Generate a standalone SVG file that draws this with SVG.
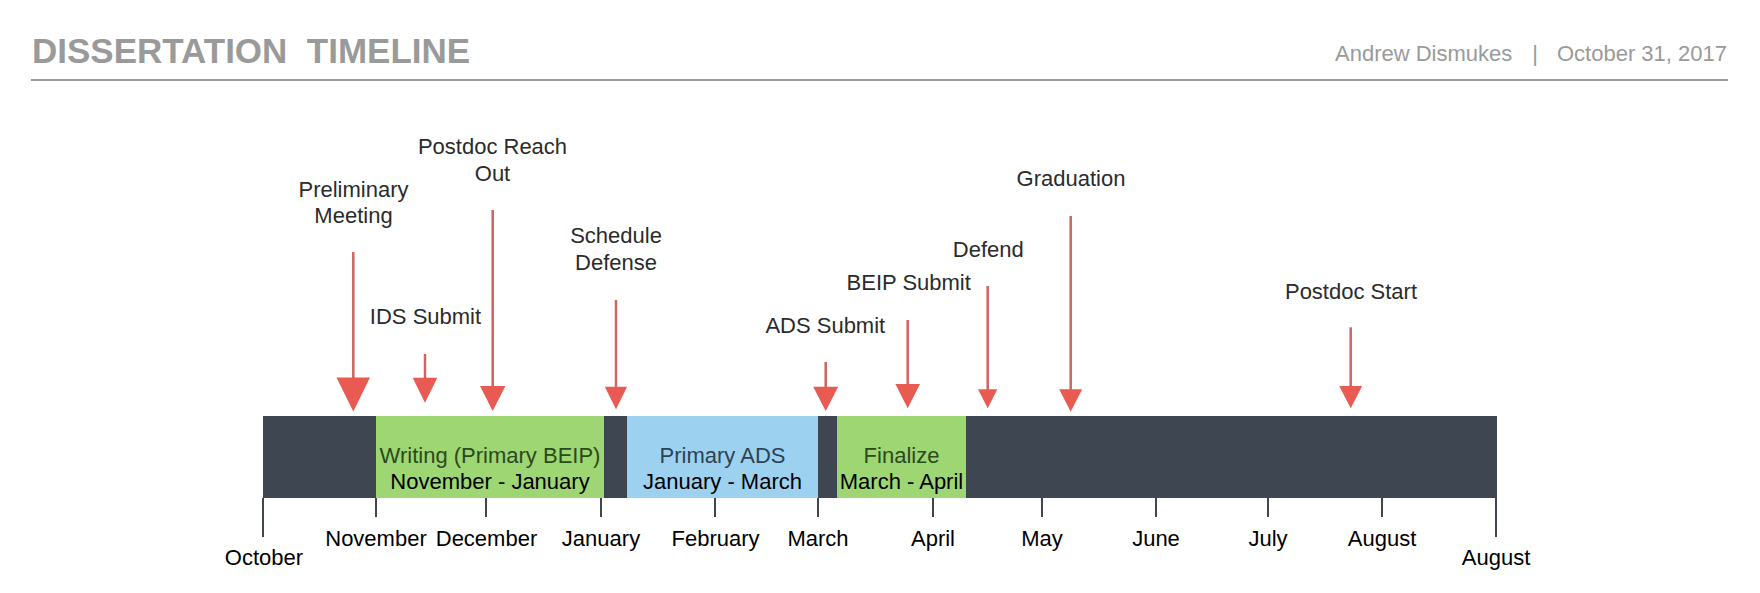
<svg xmlns="http://www.w3.org/2000/svg" width="1760" height="593" viewBox="0 0 1760 593">
<style>
.hdr{font-family:"Liberation Sans",Arial,sans-serif;fill:#9a9a9a}
.lbl{font-family:"Liberation Sans",Arial,sans-serif;font-size:22px;fill:#2b2b2b;text-anchor:middle}
.mon{font-family:"Liberation Sans",Arial,sans-serif;font-size:22px;fill:#000;text-anchor:middle}
.box{font-family:"Liberation Sans",Arial,sans-serif;font-size:22px;text-anchor:middle}
.ln{stroke:#cf6460;stroke-width:2.5;fill:none}
.hd{fill:#e85a52}
.tick{stroke:#3f4650;stroke-width:2}
</style>
<rect width="1760" height="593" fill="#ffffff"/>
<g id="header">
<text class="hdr" x="32" y="63" font-size="35" font-weight="bold" xml:space="preserve">DISSERTATION&#160; TIMELINE</text>
<text class="hdr" x="1335" y="61" font-size="22">Andrew Dismukes</text>
<text class="hdr" x="1535" y="61" font-size="22" text-anchor="middle">|</text>
<text class="hdr" x="1727" y="61" font-size="22" text-anchor="end">October 31, 2017</text>
<line x1="31" y1="80" x2="1728" y2="80" stroke="#9a9a9a" stroke-width="2"/>
</g>
<g id="bar">
<rect x="263" y="416" width="1234" height="82" fill="#3d4651"/>
</g>
<g id="writing">
<rect x="376" y="416" width="228" height="82" fill="#9dd672"/>
<text class="box" x="490" y="463" fill="#2b4a1c">Writing (Primary BEIP)</text>
<text class="box" x="490" y="489" fill="#000">November - January</text>
</g>
<g id="primary-ads">
<rect x="627" y="416" width="191" height="82" fill="#9dd1f0"/>
<text class="box" x="722.5" y="463" fill="#2c4354">Primary ADS</text>
<text class="box" x="722.5" y="489" fill="#000">January - March</text>
</g>
<g id="finalize">
<rect x="837" y="416" width="129" height="82" fill="#9dd672"/>
<text class="box" x="901.5" y="463" fill="#2b4a1c">Finalize</text>
<text class="box" x="901.5" y="489" fill="#000">March - April</text>
</g>
<g id="axis">
<line class="tick" x1="263" y1="498" x2="263" y2="537"/>
<line class="tick" x1="376" y1="498" x2="376" y2="517"/>
<line class="tick" x1="486" y1="498" x2="486" y2="517"/>
<line class="tick" x1="601" y1="498" x2="601" y2="517"/>
<line class="tick" x1="715" y1="498" x2="715" y2="517"/>
<line class="tick" x1="818" y1="498" x2="818" y2="517"/>
<line class="tick" x1="933" y1="498" x2="933" y2="517"/>
<line class="tick" x1="1042" y1="498" x2="1042" y2="517"/>
<line class="tick" x1="1156" y1="498" x2="1156" y2="517"/>
<line class="tick" x1="1268" y1="498" x2="1268" y2="517"/>
<line class="tick" x1="1382" y1="498" x2="1382" y2="517"/>
<line class="tick" x1="1496" y1="498" x2="1496" y2="537"/>
<text class="mon" x="264" y="565">October</text>
<text class="mon" x="376" y="546">November</text>
<text class="mon" x="486.5" y="546">December</text>
<text class="mon" x="601" y="546">January</text>
<text class="mon" x="715.5" y="546">February</text>
<text class="mon" x="818" y="546">March</text>
<text class="mon" x="933" y="546">April</text>
<text class="mon" x="1042" y="546">May</text>
<text class="mon" x="1156" y="546">June</text>
<text class="mon" x="1268" y="546">July</text>
<text class="mon" x="1382" y="546">August</text>
<text class="mon" x="1496" y="565">August</text>
</g>
<g id="label-preliminary"><text class="lbl" x="353.5" y="197">Preliminary</text><text class="lbl" x="353.5" y="223">Meeting</text></g>
<g id="label-ids"><text class="lbl" x="425.5" y="324">IDS Submit</text></g>
<g id="label-postdoc-reach"><text class="lbl" x="492.5" y="154">Postdoc Reach</text><text class="lbl" x="492.5" y="181">Out</text></g>
<g id="label-schedule"><text class="lbl" x="616" y="243">Schedule</text><text class="lbl" x="616" y="270">Defense</text></g>
<g id="label-ads"><text class="lbl" x="825.3" y="333">ADS Submit</text></g>
<g id="label-beip"><text class="lbl" x="908.7" y="290">BEIP Submit</text></g>
<g id="label-defend"><text class="lbl" x="988.3" y="257">Defend</text></g>
<g id="label-graduation"><text class="lbl" x="1071" y="186">Graduation</text></g>
<g id="label-postdoc-start"><text class="lbl" x="1351" y="299">Postdoc Start</text></g>
<g id="connectors">
<line class="ln" x1="353.3" y1="252" x2="353.3" y2="380"/>
<polygon class="hd" points="336.5,377.5 370,377.5 353.3,411.5"/>
<line class="ln" x1="425" y1="354" x2="425" y2="380"/>
<polygon class="hd" points="412.7,377.7 437.3,377.7 425,402.7"/>
<line class="ln" x1="492.7" y1="210" x2="492.7" y2="388"/>
<polygon class="hd" points="480,386 505.4,386 492.7,411"/>
<line class="ln" x1="616" y1="300" x2="616" y2="389"/>
<polygon class="hd" points="604.8,386.7 627.2,386.7 616,409.3"/>
<line class="ln" x1="825.7" y1="362" x2="825.7" y2="389"/>
<polygon class="hd" points="813.2,386.7 838.2,386.7 825.7,411"/>
<line class="ln" x1="907.7" y1="320" x2="907.7" y2="386"/>
<polygon class="hd" points="895.4,384 920,384 907.7,408.3"/>
<line class="ln" x1="987.7" y1="286" x2="987.7" y2="391"/>
<polygon class="hd" points="978,389.3 997.4,389.3 987.7,408.3"/>
<line class="ln" x1="1070.7" y1="216" x2="1070.7" y2="391"/>
<polygon class="hd" points="1059.2,389.3 1082.2,389.3 1070.7,411.7"/>
<line class="ln" x1="1350.7" y1="327.3" x2="1350.7" y2="388"/>
<polygon class="hd" points="1339.2,386 1362.2,386 1350.7,408.3"/>
</g>
</svg>
